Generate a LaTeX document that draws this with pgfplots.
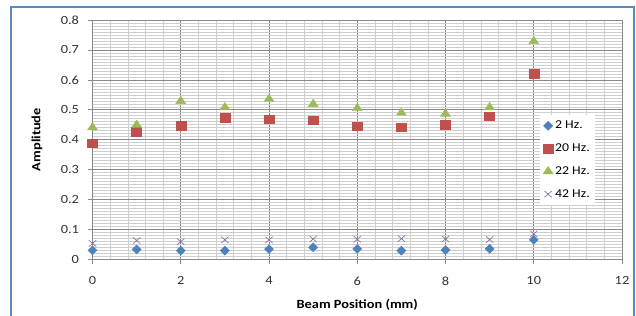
\documentclass[border=0pt]{standalone}
\usepackage{fontspec}
\setmainfont{Carlito}[FakeStretch=1.15]
\usepackage{pgfplots}
\pgfplotsset{compat=1.18}
\definecolor{sblue}{HTML}{4F81BD}
\definecolor{sred}{HTML}{C0504D}
\definecolor{sgreen}{HTML}{9BBB59}
\definecolor{spurple}{HTML}{8064A2}
\definecolor{framec}{HTML}{5B87C5}
\definecolor{majg}{HTML}{8A8A8A}
\definecolor{ming}{HTML}{CFCFCF}
\definecolor{tickc}{HTML}{333333}
\begin{document}
\begin{tikzpicture}[x=1bp,y=1bp]
\useasboundingbox (0,0) rectangle (636,315);
\draw[color=framec, line width=2bp] (11,-5) -- (11,308) -- (634,308) -- (634,-5);
\begin{axis}[
  at={(92.5bp,55.7bp)}, anchor=south west,
  scale only axis, width=529.5bp, height=239.3bp,
  xmin=0, xmax=12, ymin=0, ymax=0.8,
  xtick={0,2,4,6,8,10,12},
  ytick={0,0.1,0.2,0.3,0.4,0.5,0.6,0.7,0.8},
  yticklabels={0,0.1,0.2,0.3,0.4,0.5,0.6,0.7,0.8},
  minor x tick num=4, minor y tick num=9,
  grid=both,
  major grid style={majg, line width=0.6bp},
  minor grid style={ming, line width=0.5bp},
  axis line style={majg, line width=0.6bp},
  tick align=outside, tick pos=left,
  major tick length=5bp, minor tick length=0bp,
  tick style={majg, line width=0.6bp},
  tick label style={font=\fontsize{12.5bp}{14bp}\selectfont, text=tickc},
  /pgf/number format/assume math mode=true,
  xticklabel style={yshift=-9bp},
  yticklabel style={xshift=-5bp},
  xlabel={\textbf{Beam Position (mm)}},
  ylabel={\textbf{Amplitude}},
  label style={font=\fontsize{12.5bp}{14bp}\selectfont},
  xlabel style={at={(axis description cs:0.5,-0.191)}, anchor=center},
  ylabel style={at={(axis description cs:-0.1048,0.5)}, anchor=center},
  legend style={at={(0.845,0.603)}, anchor=north west, draw=none, fill=white,
    font=\fontsize{12bp}{13bp}\selectfont, row sep=9.5bp, inner xsep=3bp, inner ysep=4bp},
  legend cell align=left,
  legend image code/.code={\draw plot coordinates {(5bp,0bp)};},
]
\addplot[only marks, mark=diamond*, color=sblue, mark size=4.5bp, mark options={xscale=1.35}] coordinates {
(0,0.030) (1,0.033) (2,0.029) (3,0.029) (4,0.034) (5,0.040) (6,0.035) (7,0.029) (8,0.031) (9,0.035) (10,0.065)};
\addlegendentry{2 Hz.}
\addplot[only marks, mark=square*, color=sred, mark size=4.3bp, mark options={xscale=1.15}] coordinates {
(0,0.388) (1,0.427) (2,0.447) (3,0.473) (4,0.468) (5,0.465) (6,0.445) (7,0.442) (8,0.450) (9,0.478) (10,0.621)};
\addlegendentry{20 Hz.}
\addplot[only marks, mark=triangle*, color=sgreen, mark size=5bp, mark options={xscale=1.15}] coordinates {
(0,0.441) (1,0.449) (2,0.529) (3,0.508) (4,0.536) (5,0.519) (6,0.505) (7,0.490) (8,0.486) (9,0.508) (10,0.729)};
\addlegendentry{22 Hz.}
\addplot[only marks, mark=x, color=spurple, mark size=4.5bp, mark options={line width=0.6bp, xscale=1.15}] coordinates {
(0,0.053) (1,0.063) (2,0.059) (3,0.065) (4,0.065) (5,0.068) (6,0.067) (7,0.069) (8,0.068) (9,0.066) (10,0.085)};
\addlegendentry{42 Hz.}
\end{axis}
\end{tikzpicture}
\end{document}
